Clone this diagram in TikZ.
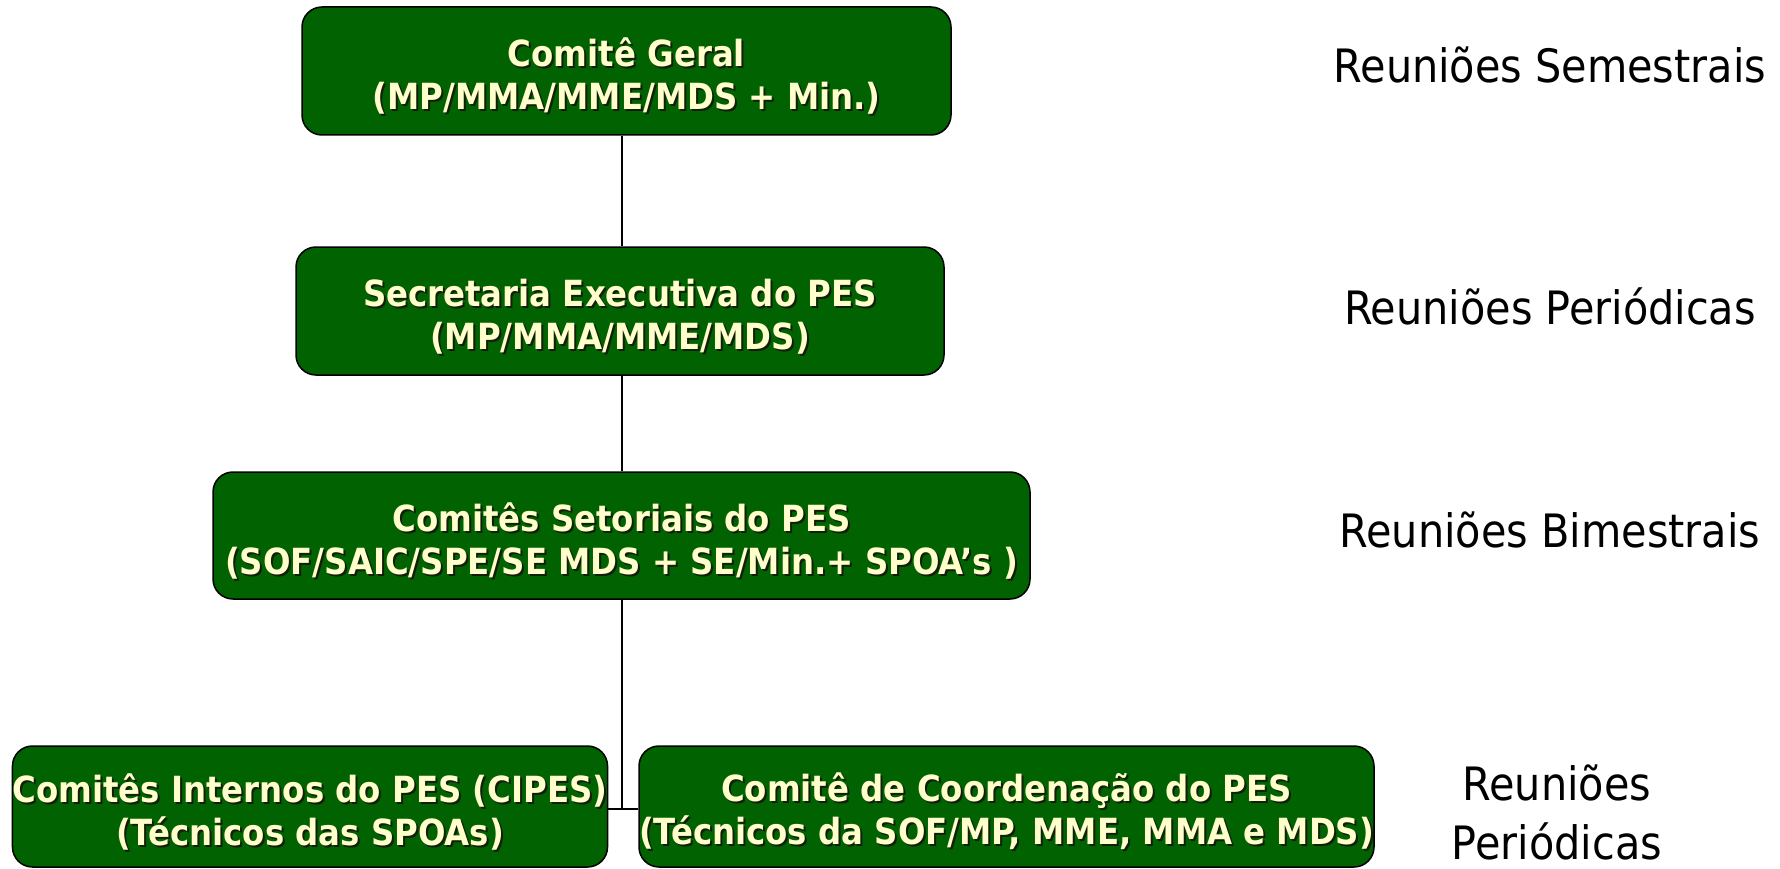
\documentclass[tikz,border=0pt]{standalone}
\usepackage{fontspec}
\setmainfont{DejaVu Sans Condensed}[BoldFont={DejaVu Sans Condensed Bold}]
\definecolor{boxgreen}{RGB}{0,98,0}
\definecolor{boxtext}{RGB}{255,255,204}
\definecolor{shadowc}{RGB}{20,30,10}
\newcommand\shtxt[1]{\rlap{\kern2pt\raisebox{-2pt}{\color{shadowc}#1}}#1}
\newcommand\topstrut{\rule{0pt}{41pt}}
\tikzset{
  orgbox/.style={draw=black, line width=1.5pt, fill=boxgreen, rounded corners=20pt,
    text=boxtext, align=center, inner sep=0pt,
    font=\fontsize{36}{43}\selectfont\bfseries},
  meet/.style={font=\fontsize{46}{59}\selectfont, align=center, text=black, inner sep=0pt},
  link/.style={draw=black, line width=1.5pt}
}
\begin{document}
\begin{tikzpicture}[x=1pt,y=-1pt]
\useasboundingbox (0,0) rectangle (1780,869);
\node[orgbox, minimum width=649pt, minimum height=128pt] (b1) at (626.5,71)
  {\topstrut\shtxt{Comitê Geral}\\\shtxt{(MP/MMA/MME/MDS + Min.)}};
\node[orgbox, minimum width=648pt, minimum height=128pt] (b2) at (620,311)
  {\topstrut\shtxt{Secretaria Executiva do PES}\\\shtxt{(MP/MMA/MME/MDS)}};
\node[orgbox, minimum width=817pt, minimum height=127pt] (b3) at (621.5,535.5)
  {\topstrut\shtxt{Comitês Setoriais do PES}\\\shtxt{(SOF/SAIC/SPE/SE MDS + SE/Min.+ SPOA’s )}};
\node[orgbox, minimum width=592pt, minimum height=121pt] (b4) at (310,806.5)
  {\topstrut\shtxt{Comitês Internos do PES (CIPES)}\\\shtxt{(Técnicos das SPOAs)}};
\node[orgbox, minimum width=735pt, minimum height=121pt] (b5) at (1006.5,806.5)
  {\topstrut\shtxt{Comitê de Coordenação do PES}\\\shtxt{(Técnicos da SOF/MP, MME, MMA e MDS)}};
\coordinate (j) at (622,809);
\draw[link] (b1.south -| j) -- (b2.north -| j);
\draw[link] (b2.south -| j) -- (b3.north -| j);
\draw[link] (b3.south -| j) -- (j);
\draw[link] (b4.east |- j) -- (b5.west |- j);
\node[meet] (m1) at (1550,65) {Reuniões Semestrais};
\node[meet] (m2) at (1550,306) {Reuniões Periódicas};
\node[meet] (m3) at (1550,530) {Reuniões Bimestrais};
\node[meet] (m4) at (1557,812) {Reuniões\\Periódicas};
\end{tikzpicture}
\end{document}
